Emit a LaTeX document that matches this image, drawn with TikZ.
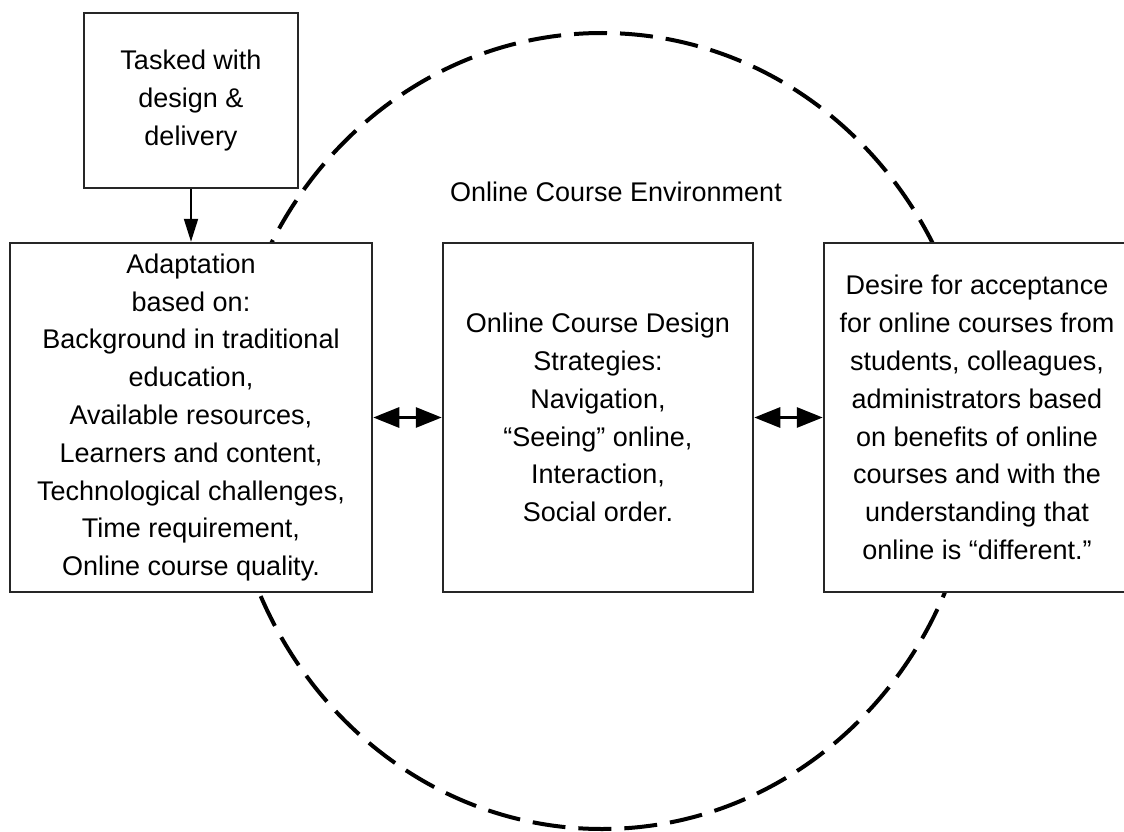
\documentclass[tikz,border=0pt]{standalone}
\usepackage{fontspec}
\setmainfont{Liberation Sans}
\usetikzlibrary{arrows.meta}
\begin{document}
\begin{tikzpicture}[x=1pt,y=-1pt,
  box/.style={draw=black!85,line width=2.5pt,fill=white,align=center,inner sep=0pt,
    font=\fontsize{27}{37.8}\selectfont},
  env/.style={draw=black,line width=4pt,dash pattern=on 33pt off 13pt},
  biarrow/.style={line width=3pt,{Triangle[length=26pt,width=20pt]}-{Triangle[length=26pt,width=20pt]}},
  downarrow/.style={line width=2pt,-{Triangle[length=23pt,width=14pt]}}]
\useasboundingbox (0,0) rectangle (1124,832);
\fill[white] (0,0) rectangle (1124,832);
\draw[env] (602,431) ellipse [x radius=375, y radius=398];
\node (envlabel) at (616,192) {\fontsize{27}{30}\selectfont Online Course Environment};
\node[box,minimum width=214pt,minimum height=175pt] (task) at (191,100.5)
  {Tasked with\\design \&\\delivery};
\node[box,minimum width=362pt,minimum height=349pt] (adapt) at (191,417.5)
  {Adaptation\\based on:\\Background in traditional\\education,\\Available resources,\\Learners and content,\\Technological challenges,\\Time requirement,\\Online course quality.};
\node[box,minimum width=310pt,minimum height=349pt] (design) at (598,417.5)
  {Online Course Design\\Strategies:\\Navigation,\\“Seeing” online,\\Interaction,\\Social order.};
\node[box,minimum width=306pt,minimum height=349pt] (desire) at (977,417.5)
  {Desire for acceptance\\for online courses from\\students, colleagues,\\administrators based\\on benefits of online\\courses and with the\\understanding that\\online is “different.”};
\draw[downarrow] (task) -- (adapt);
\draw[biarrow] (adapt) -- (design);
\draw[biarrow] (design) -- (desire);
\end{tikzpicture}
\end{document}
